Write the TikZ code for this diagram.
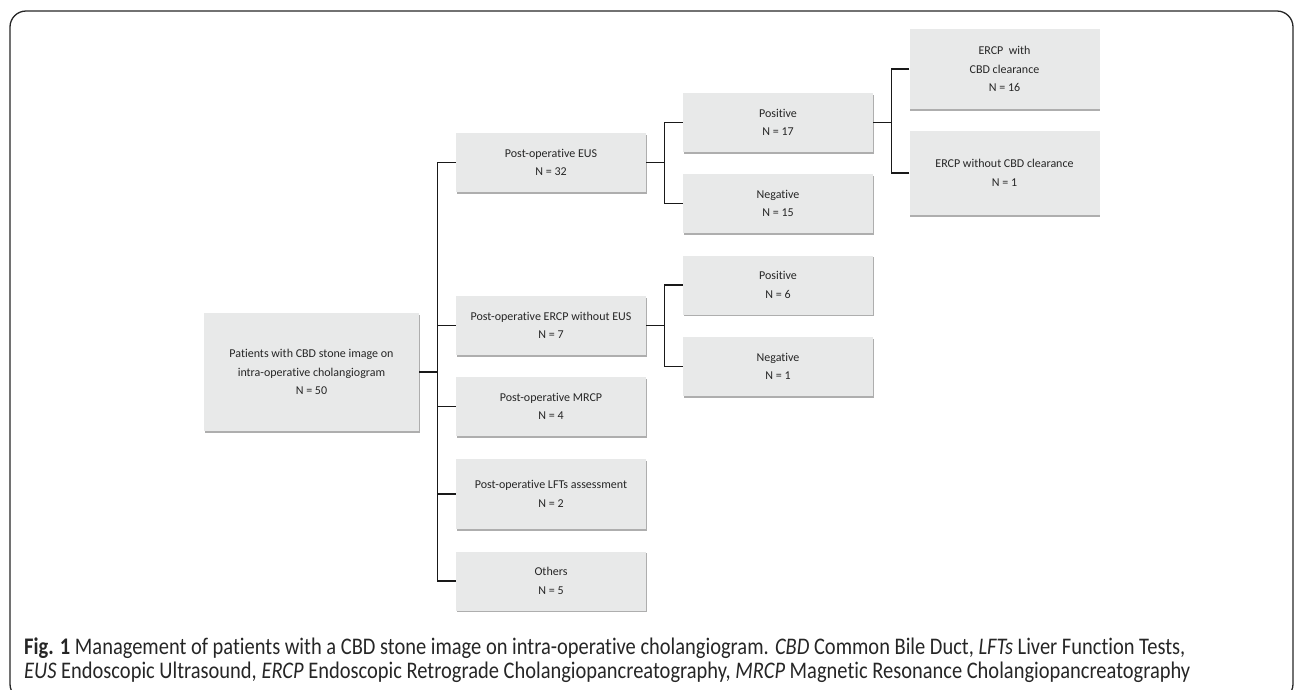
\documentclass[tikz,border=0pt]{standalone}
\usepackage{fontspec}
\setmainfont{Carlito}[Ligatures=NoCommon]
\newfontfamily\capfont[FakeStretch=0.86,Ligatures=NoCommon]{Carlito}
\usetikzlibrary{positioning,shadows,calc}
\definecolor{BoxGray}{HTML}{E8E9E9}
\definecolor{InkGray}{HTML}{262626}

\begin{document}
\begin{tikzpicture}[x=1pt, y=-1pt,
  box/.style={fill=BoxGray, text=InkGray, align=center, inner sep=0pt, minimum width=190pt, minimum height=59pt, font=\fontsize{12}{18.5}\selectfont, drop shadow={shadow xshift=0.6pt, shadow yshift=-1.6pt, opacity=0.45, fill=black!70}},
  link/.style={draw=black!90, line width=1.1pt}]
\useasboundingbox (0,0) rectangle (1296,689);
\clip (0,0) rectangle (1296,689);
\draw[line width=1.3pt, draw=black!85, rounded corners=16pt] (10,11) rectangle (1293,700);
% boxes
\node[box, minimum width=215pt, minimum height=118pt] (root) at (311.5,372) {Patients with CBD stone image on\\intra-operative cholangiogram\\N = 50};
\node[box] (eus) at (551,162.5) {Post-operative EUS\\N = 32};
\node[box] (ercp) at (551,325.5) {Post-operative ERCP without EUS\\N = 7};
\node[box] (mrcp) at (551,406.5) {Post-operative MRCP\\N = 4};
\node[box, minimum height=70pt] (lft) at (551,494) {Post-operative LFTs assessment\\N = 2};
\node[box] (oth) at (551,581) {Others\\N = 5};
\node[box] (eusp) at (778,122.5) {Positive\\N = 17};
\node[box] (eusn) at (778,203.5) {Negative\\N = 15};
\node[box] (ercpp) at (778,285) {Positive\\N = 6};
\node[box] (ercpn) at (778,366.5) {Negative\\N = 1};
\node[box, minimum height=80pt] (clr) at (1004.5,69) {ERCP~ with\\CBD clearance\\N = 16};
\node[box, minimum height=84pt] (nclr) at (1004.5,173) {ERCP without CBD clearance\\N = 1};
% brackets
\coordinate[right=18pt of root.east] (j0);
\coordinate[right=18pt of eus.east] (j1);
\coordinate[right=18pt of ercp.east] (j2);
\coordinate[right=18pt of eusp.east] (j3);
\draw[link] (root) -- (j0);
\foreach \n in {eus,ercp,mrcp,lft,oth} \draw[link] (\n.west) -| (j0);
\draw[link] (eus) -- (j1);
\foreach \n in {eusp,eusn} \draw[link] (\n.west) -| (j1);
\draw[link] (ercp) -- (j2);
\foreach \n in {ercpp,ercpn} \draw[link] (\n.west) -| (j2);
\draw[link] (eusp) -- (j3);
\foreach \n in {clr,nclr} \draw[link] (\n.west) -| (j3);
% caption
\node[anchor=base west, align=left, text=InkGray, inner sep=0pt, font=\capfont\fontsize{23.8}{24}\selectfont] (cap) at (24,678) {\textbf{Fig. 1} Management of patients with a CBD stone image on intra-operative cholangiogram. \textit{CBD} Common Bile Duct, \textit{LFTs} Liver Function Tests,\\\textit{EUS} Endoscopic Ultrasound, \textit{ERCP} Endoscopic Retrograde Cholangiopancreatography, \textit{MRCP} Magnetic Resonance Cholangiopancreatography};
\end{tikzpicture}
\end{document}
